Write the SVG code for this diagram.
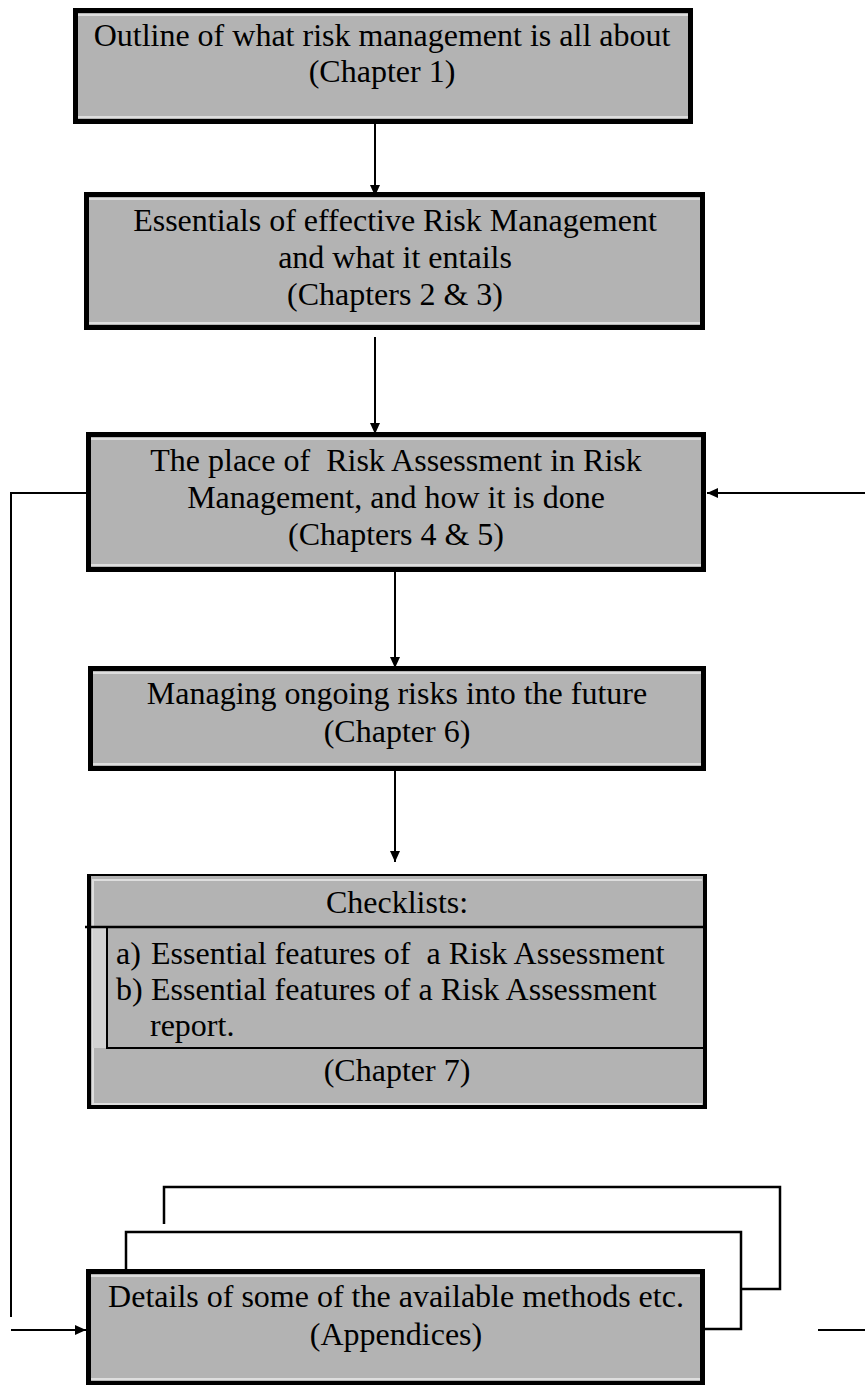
<svg xmlns="http://www.w3.org/2000/svg" width="865" height="1385" viewBox="0 0 865 1385">
<style>
.box{fill:#b3b3b3;stroke:#000;stroke-width:5}
.hl{stroke:#dedede;stroke-width:2;fill:none}
.t{font-family:"Liberation Serif","Times New Roman",serif;font-size:32px;fill:#000;text-anchor:middle}
.tl{font-family:"Liberation Serif","Times New Roman",serif;font-size:32px;fill:#000}
.ln{stroke:#000;stroke-width:2;fill:none}
.fr{stroke:#000;stroke-width:2.5;fill:none}
</style>
<defs>
<marker id="ah" markerUnits="userSpaceOnUse" markerWidth="11" markerHeight="11" viewBox="0 0 11 11" refX="11" refY="5.5" orient="auto">
<path d="M0,0.5 L11,5.5 L0,10.5 Z" fill="#000"/>
</marker>
</defs>
<rect width="865" height="1385" fill="#fff"/>

<g id="connectors">
<line class="ln" x1="375" y1="124" x2="375" y2="196" marker-end="url(#ah)"/>
<line class="ln" x1="375" y1="337" x2="375" y2="434" marker-end="url(#ah)"/>
<line class="ln" x1="395" y1="572" x2="395" y2="668" marker-end="url(#ah)"/>
<line class="ln" x1="395" y1="766" x2="395" y2="862" marker-end="url(#ah)"/>
<polyline class="ln" points="86,493 11,493 11,1317"/>
<line class="ln" x1="11" y1="1330" x2="86" y2="1330" marker-end="url(#ah)"/>
<line class="ln" x1="865" y1="493" x2="707" y2="493" marker-end="url(#ah)"/>
<line class="ln" x1="818" y1="1330" x2="865" y2="1330"/>
</g>

<g id="node-outline">
<rect class="box" x="75.5" y="10.5" width="615" height="111"/>
<line class="hl" x1="78" y1="15" x2="688" y2="15"/>
<line class="hl" x1="78" y1="117" x2="688" y2="117"/>
<text class="t" x="382" y="46">Outline of what risk management is all about</text>
<text class="t" x="382" y="82">(Chapter 1)</text>
</g>

<g id="node-essentials">
<rect class="box" x="86.5" y="194.5" width="616" height="133"/>
<line class="hl" x1="89" y1="199" x2="700" y2="199"/>
<line class="hl" x1="89" y1="323" x2="700" y2="323"/>
<text class="t" x="395" y="231">Essentials of effective Risk Management</text>
<text class="t" x="395" y="268">and what it entails</text>
<text class="t" x="395" y="305">(Chapters 2 &amp; 3)</text>
</g>

<g id="node-assessment">
<rect class="box" x="88.5" y="434.5" width="615" height="135"/>
<line class="hl" x1="91" y1="439" x2="701" y2="439"/>
<line class="hl" x1="91" y1="565" x2="701" y2="565"/>
<text class="t" x="396" y="471" xml:space="preserve">The place of  Risk Assessment in Risk</text>
<text class="t" x="396" y="508">Management, and how it is done</text>
<text class="t" x="396" y="545">(Chapters 4 &amp; 5)</text>
</g>

<g id="node-ongoing">
<rect class="box" x="90.5" y="668.5" width="613" height="100"/>
<line class="hl" x1="93" y1="673" x2="701" y2="673"/>
<line class="hl" x1="93" y1="764" x2="701" y2="764"/>
<text class="t" x="397" y="704">Managing ongoing risks into the future</text>
<text class="t" x="397" y="742">(Chapter 6)</text>
</g>

<g id="node-checklists">
<rect x="87" y="874" width="620" height="235" fill="#b3b3b3"/>
<line class="hl" x1="92" y1="880" x2="702" y2="880"/>
<line class="hl" x1="92" y1="1104" x2="702" y2="1104"/>
<line class="hl" x1="93" y1="880" x2="93" y2="1104"/>
<rect x="93" y="928" width="13" height="120" fill="#d2d2d2"/>
<line x1="87" y1="875" x2="707" y2="875" stroke="#000" stroke-width="2"/>
<line x1="85" y1="927" x2="707" y2="927" stroke="#000" stroke-width="2.5"/>
<line x1="107" y1="927" x2="107" y2="1049" stroke="#000" stroke-width="2"/>
<line x1="107" y1="1048" x2="707" y2="1048" stroke="#000" stroke-width="2"/>
<line x1="89" y1="874" x2="89" y2="1109" stroke="#000" stroke-width="4"/>
<line x1="705" y1="874" x2="705" y2="1109" stroke="#000" stroke-width="4"/>
<line x1="87" y1="1107" x2="707" y2="1107" stroke="#000" stroke-width="4"/>
<text class="t" x="397" y="913">Checklists:</text>
<text class="tl" x="116" y="964">a)</text>
<text class="tl" x="151" y="964" xml:space="preserve">Essential features of  a Risk Assessment</text>
<text class="tl" x="116" y="1000">b)</text>
<text class="tl" x="151" y="1000">Essential features of a Risk Assessment</text>
<text class="tl" x="150" y="1036">report.</text>
<text class="t" x="397" y="1081">(Chapter 7)</text>
</g>

<g id="node-appendices">
<path class="fr" d="M164,1224 V1187 H780 V1289 H741"/>
<path class="fr" d="M126,1269 V1232 H741 V1329 H705"/>
<rect class="box" x="88.5" y="1271.5" width="614" height="112"/>
<line class="hl" x1="91" y1="1276" x2="700" y2="1276"/>
<line class="hl" x1="91" y1="1379" x2="700" y2="1379"/>
<text class="t" x="396" y="1307">Details of some of the available methods etc.</text>
<text class="t" x="396" y="1345">(Appendices)</text>
</g>
</svg>
